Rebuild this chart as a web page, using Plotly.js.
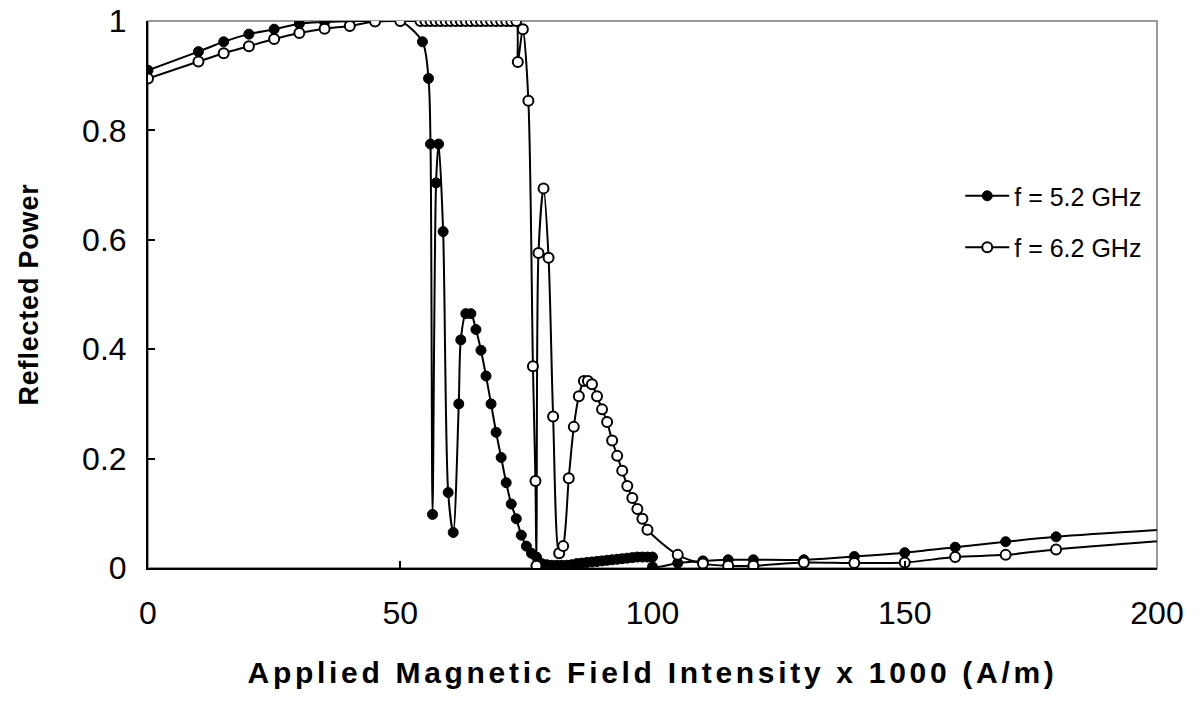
<!DOCTYPE html>
<html>
<head>
<meta charset="utf-8">
<script src="https://cdn.plot.ly/plotly-3.0.1.min.js"></script>
<style>
html,body{margin:0;padding:0;background:#fff}
#chart{width:1197px;height:711px}
.xtitle{letter-spacing:3.7px}
.ytitle{letter-spacing:0.8px}
</style>
</head>
<body>
<div id="chart"></div>
<script>
// f = 5.2 GHz (filled markers)
var x52 = [0,10,15,20,25,30,35,40,45,50,54.4,55.6,56.0,56.4,57.1,57.6,58.5,59.5,60.5,61.6,62.0,63,64,65,66,67,68,69,70,71,72,73,74,75,76,77,78,79,80,81,82,83,84,85,86,87,88,89,90,91,92,93,94,95,96,97,98,99,100,100,105,110,115,120,130,140,150,160,170,180,210];
var y52 = [0.910,0.944,0.962,0.976,0.985,0.995,0.998,1.0,1.0,1.0,0.962,0.895,0.775,0.098,0.704,0.775,0.615,0.138,0.065,0.300,0.417,0.465,0.465,0.436,0.398,0.351,0.300,0.248,0.202,0.156,0.117,0.090,0.060,0.040,0.027,0.020,0.008,0.006,0.005,0.005,0.005,0.005,0.006,0.008,0.009,0.010,0.011,0.012,0.013,0.014,0.015,0.016,0.017,0.018,0.019,0.020,0.020,0.020,0.020,0.002,0.009,0.013,0.015,0.015,0.015,0.021,0.028,0.038,0.048,0.057,0.075];
// f = 6.2 GHz (open markers)
var x62 = [0,10,15,20,25,30,35,40,45,50,54,55,56,57,58,59,60,61,62,63,64,65,66,67,68,69,70,71,72,73,73.3,74.3,75.4,76.3,76.8,77.0,77.4,78.4,79.4,80.3,81.5,82.3,83.4,84.4,85.4,86.4,87.2,88,89,90,91,92,93,94,95,96,97,98,99,105,110,115,120,130,140,150,160,170,180,210];
var y62 = [0.895,0.926,0.941,0.954,0.967,0.978,0.986,0.991,0.999,1.0,1.0,1.0,1.0,1.0,1.0,1.0,1.0,1.0,1.0,1.0,1.0,1.0,1.0,1.0,1.0,1.0,1.0,1.0,1.0,1.0,0.925,0.985,0.854,0.369,0.159,0.004,0.576,0.694,0.567,0.277,0.027,0.040,0.164,0.258,0.314,0.342,0.342,0.336,0.314,0.290,0.267,0.233,0.205,0.178,0.150,0.128,0.108,0.090,0.070,0.024,0.008,0.004,0.004,0.010,0.009,0.010,0.020,0.024,0.034,0.056];
var seriesNames = ['f = 5.2 GHz','f = 6.2 GHz'];
var xTicks = [0,50,100,150,200];
var yTicks = [0,0.2,0.4,0.6,0.8,1];
var yTickText = ['0','0.2','0.4','0.6','0.8','1'];

var traces = [
  {x:x52, y:y52, name:seriesNames[0], type:'scatter', mode:'lines+markers', legendgroup:'a',
   line:{color:'#000', width:2, shape:'spline', smoothing:0.8},
   marker:{symbol:'circle', size:10, color:'#000', line:{color:'#000', width:1}}},
  {x:x62, y:y62, name:seriesNames[1], type:'scatter', mode:'lines+markers', legendgroup:'b',
   line:{color:'#000', width:2, shape:'spline', smoothing:0.8},
   marker:{symbol:'circle', size:10, color:'#fff', line:{color:'#000', width:2}}}
];
var layout = {
  width:1197, height:711,
  margin:{l:148, r:40, t:21, b:143},
  paper_bgcolor:'#fff', plot_bgcolor:'#fff',
  font:{family:'Arial, Liberation Sans, sans-serif', color:'#000'},
  showlegend:true,
  legend:{x:0.805, y:0.722, xanchor:'left', yanchor:'top', bgcolor:'rgba(0,0,0,0)',
          font:{size:25, family:'Arial, Liberation Sans, sans-serif'}, itemwidth:44, tracegroupgap:16, traceorder:'grouped'},
  xaxis:{range:[0,200], tickvals:xTicks, ticktext:xTicks.map(String), showgrid:false, zeroline:false,
         showline:true, linecolor:'#000', linewidth:2, ticks:'inside', ticklen:7, tickwidth:2, tickcolor:'#000',
         tickfont:{size:32}, ticklabelstandoff:16,
         title:{text:'<b>Applied Magnetic Field Intensity x 1000 (A/m)</b>', font:{size:30}, standoff:32}},
  yaxis:{range:[0,1], tickvals:yTicks, ticktext:yTickText, showgrid:false, zeroline:false,
         showline:true, linecolor:'#000', linewidth:2, ticks:'inside', ticklen:7, tickwidth:2, tickcolor:'#000',
         tickfont:{size:32}, ticklabelstandoff:13,
         title:{text:'<b>Reflected Power</b>', font:{size:27}, standoff:36}},
  shapes:[{type:'rect', xref:'paper', yref:'paper', x0:0, x1:1, y0:0, y1:1, line:{color:'#999', width:2}, layer:'below'}]
};
Plotly.newPlot('chart', traces, layout, {displayModeBar:false, staticPlot:true});
</script>
</body>
</html>
